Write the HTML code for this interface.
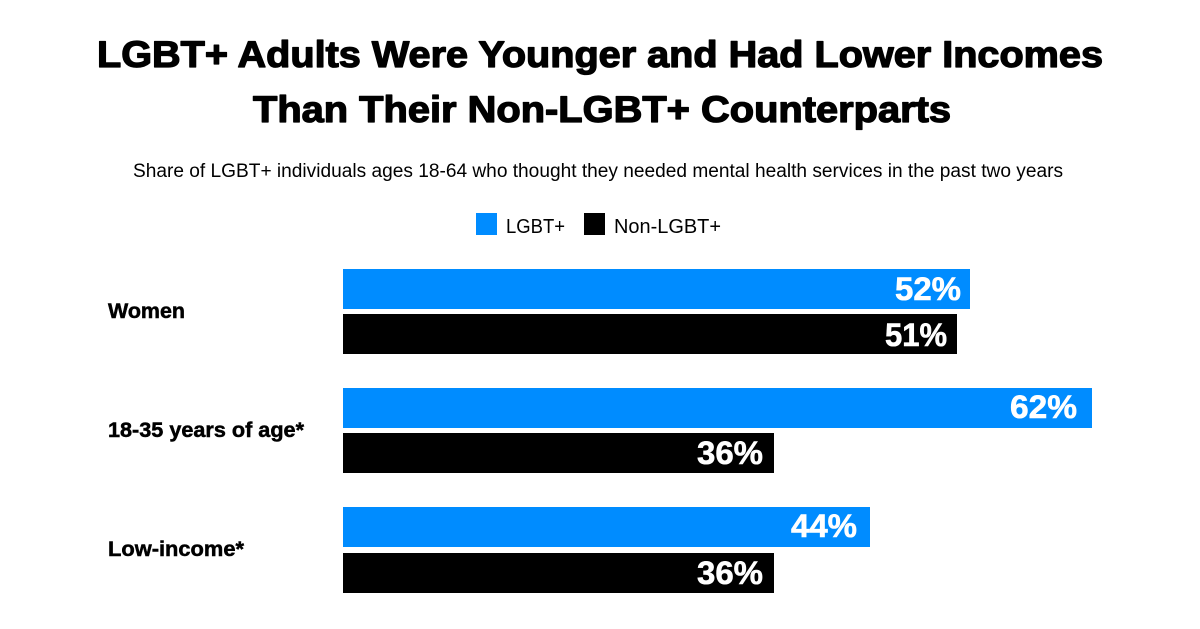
<!DOCTYPE html>
<html>
<head>
<meta charset="utf-8">
<style>
  html, body { margin: 0; padding: 0; background: #ffffff; }
  body { width: 1200px; height: 629px; overflow: hidden; }
  svg { display: block; }
  text { font-family: "Liberation Sans", Arial, sans-serif; }
</style>
</head>
<body>
<svg width="1200" height="629" viewBox="0 0 1200 629" xmlns="http://www.w3.org/2000/svg">
  <rect x="0" y="0" width="1200" height="629" fill="#ffffff"/>

  <!-- Title -->
  <text x="600" y="67" text-anchor="middle" font-size="37" font-weight="bold" fill="#000" stroke="#000" stroke-width="1.3" stroke-linejoin="round" textLength="1006" lengthAdjust="spacingAndGlyphs">LGBT+ Adults Were Younger and Had Lower Incomes</text>
  <text x="602" y="122" text-anchor="middle" font-size="37" font-weight="bold" fill="#000" stroke="#000" stroke-width="1.3" stroke-linejoin="round" textLength="698" lengthAdjust="spacingAndGlyphs">Than Their Non-LGBT+ Counterparts</text>

  <!-- Subtitle -->
  <text x="598" y="177" text-anchor="middle" font-size="19" fill="#000" textLength="930" lengthAdjust="spacingAndGlyphs">Share of LGBT+ individuals ages 18-64 who thought they needed mental health services in the past two years</text>

  <!-- Legend -->
  <rect x="476" y="213" width="21" height="22" fill="#008cff"/>
  <text x="506" y="233" font-size="20" fill="#000" textLength="59" lengthAdjust="spacingAndGlyphs">LGBT+</text>
  <rect x="584" y="213" width="21" height="22" fill="#000"/>
  <text x="614" y="233" font-size="20" fill="#000" textLength="107" lengthAdjust="spacingAndGlyphs">Non-LGBT+</text>

  <!-- Category labels -->
  <text x="108" y="318" font-size="21" font-weight="bold" fill="#000" stroke="#000" stroke-width="0.5" textLength="77" lengthAdjust="spacingAndGlyphs">Women</text>
  <text x="108" y="437" font-size="21" font-weight="bold" fill="#000" stroke="#000" stroke-width="0.5" textLength="196" lengthAdjust="spacingAndGlyphs">18-35 years of age*</text>
  <text x="108" y="556" font-size="21" font-weight="bold" fill="#000" stroke="#000" stroke-width="0.5" textLength="136" lengthAdjust="spacingAndGlyphs">Low-income*</text>

  <!-- Bars: Women -->
  <rect x="343" y="269" width="627" height="40" fill="#008cff"/>
  <text x="961" y="300" text-anchor="end" font-size="32" font-weight="bold" fill="#fff" stroke="#fff" stroke-width="0.6" textLength="66" lengthAdjust="spacingAndGlyphs">52%</text>
  <rect x="343" y="314" width="614" height="40" fill="#000"/>
  <text x="947" y="346" text-anchor="end" font-size="32" font-weight="bold" fill="#fff" stroke="#fff" stroke-width="0.6" textLength="62" lengthAdjust="spacingAndGlyphs">51%</text>

  <!-- Bars: 18-35 -->
  <rect x="343" y="388" width="749" height="40" fill="#008cff"/>
  <text x="1077" y="418" text-anchor="end" font-size="32" font-weight="bold" fill="#fff" stroke="#fff" stroke-width="0.6" textLength="67" lengthAdjust="spacingAndGlyphs">62%</text>
  <rect x="343" y="433" width="431" height="40" fill="#000"/>
  <text x="763" y="464" text-anchor="end" font-size="32" font-weight="bold" fill="#fff" stroke="#fff" stroke-width="0.6" textLength="66" lengthAdjust="spacingAndGlyphs">36%</text>

  <!-- Bars: Low-income -->
  <rect x="343" y="507" width="527" height="40" fill="#008cff"/>
  <text x="857" y="537" text-anchor="end" font-size="32" font-weight="bold" fill="#fff" stroke="#fff" stroke-width="0.6" textLength="66" lengthAdjust="spacingAndGlyphs">44%</text>
  <rect x="343" y="553" width="431" height="40" fill="#000"/>
  <text x="763" y="584" text-anchor="end" font-size="32" font-weight="bold" fill="#fff" stroke="#fff" stroke-width="0.6" textLength="66" lengthAdjust="spacingAndGlyphs">36%</text>
</svg>
</body>
</html>
